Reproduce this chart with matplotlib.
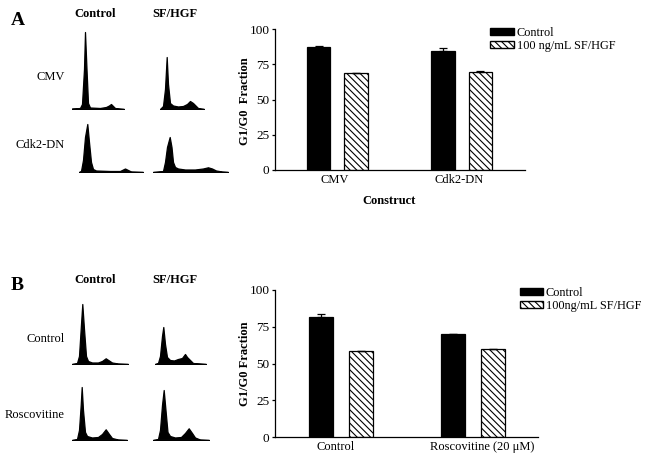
import numpy as np
import matplotlib
matplotlib.use('Agg')
import matplotlib.pyplot as plt
from matplotlib.patches import Patch

plt.rcParams['font.family'] = ['Liberation Serif', 'DejaVu Serif']
plt.rcParams['hatch.linewidth'] = 0.8

# ---------------- data ----------------
# Bar charts (G1/G0 fraction, %)
a_categories = ['CMV', 'Cdk2-DN']
a_control = [87.4, 84.6]
a_control_err = [0.4, 1.6]
a_hgf = [68.5, 69.4]
a_hgf_err = [0.4, 0.9]
a_legend = ['Control', '100 ng/mL SF/HGF']

b_categories = ['Control', 'Roscovitine (20 \u03bcM)']
b_control = [81.3, 70.0]
b_control_err = [2.6, 0.0]
b_hgf = [58.5, 59.6]
b_hgf_err = [0.0, 0.5]
b_legend = ['Control', '100ng/mL SF/HGF']

yticks = [0, 25, 50, 75, 100]

# Flow cytometry histograms: DNA content channel (a.u.) vs cell count (a.u.)
a_cmv_ctrl_ch = [0, 8, 10, 12, 13, 14.5, 16, 18, 28, 34, 37, 39, 41, 43, 52]
a_cmv_ctrl_n = [0.5, 1, 5, 40, 77, 40, 6, 1.5, 1, 2, 3.5, 5, 3, 1, 0]
a_cmv_hgf_ch = [0, 3, 5, 6.7, 8, 10, 13, 18, 23, 27, 30, 33, 36, 38, 44]
a_cmv_hgf_n = [0, 3, 20, 52, 25, 6, 3.5, 2.5, 3, 5, 8, 6, 3, 1, 0]
a_cdk_ctrl_ch = [0, 2, 4, 6, 8.3, 10, 12, 14, 17, 31, 41, 44, 46, 49, 52, 64]
a_cdk_ctrl_n = [0, 1, 12, 35, 48, 30, 10, 3, 1.5, 1, 1, 2.5, 3.5, 2, 0.5, 0]
a_cdk_hgf_ch = [0, 10, 12, 14, 16.7, 18.5, 20, 22, 25, 32, 42, 50, 55, 59, 63, 69, 75]
a_cdk_hgf_n = [0, 1, 10, 25, 35, 25, 10, 5, 3.5, 2.5, 2.5, 3.5, 4.7, 3.5, 1.5, 0.5, 0]

b_ctl_ctrl_ch = [0, 5, 7, 9, 10.3, 12, 14, 16, 20, 26, 30, 33.7, 37, 40, 46, 56]
b_ctl_ctrl_n = [0, 1, 8, 40, 60, 35, 8, 3, 1.5, 1.5, 3, 5.7, 3.5, 1.5, 0.5, 0]
b_ctl_hgf_ch = [0, 3, 5, 7, 8.3, 10, 12, 15, 19, 23, 27, 30, 32, 35, 38, 45, 51]
b_ctl_hgf_n = [0, 1, 8, 28, 37, 20, 7, 4, 3.5, 5, 6, 10, 7, 4, 1, 0.5, 0]
b_ros_ctrl_ch = [0, 5, 7, 8.7, 9.7, 11, 13, 15, 20, 26, 30, 33.7, 37, 40, 46, 55]
b_ros_ctrl_n = [0, 1, 10, 35, 53, 30, 8, 4, 2.5, 3, 6, 10.7, 6, 2, 0.5, 0]
b_ros_hgf_ch = [0, 5, 7, 9, 10.7, 12.5, 14.5, 17, 22, 28, 32, 35.7, 39, 42, 47, 56]
b_ros_hgf_n = [0, 1, 10, 35, 50, 30, 8, 4, 2.5, 3, 7, 11.7, 7, 2.5, 0.5, 0]

# ---------------- layout ----------------
W, H = 646, 459
fig = plt.figure(figsize=(W / 100, H / 100), dpi=100)


def px_axes(left, top, width, height):
    return fig.add_axes([left / W, 1 - (top + height) / H, width / W, height / H])


def ftext(x, y, s, **kw):
    fig.text(x / W, 1 - y / H, s, **kw)


def histogram(left, baseline, ch, n):
    width = ch[-1]
    ax = px_axes(left, baseline - 80, width, 80)
    ax.fill_between(ch, n, 0, color='black', lw=0.9)
    ax.axhline(0, color='#444444', lw=0.8)
    ax.set_xlim(0, width)
    ax.set_ylim(0, 80)
    ax.axis('off')


hatch = '\\\\\\\\\\'


def bar_panel(left, top, right, bottom, xlim, cats, ctrl, ctrl_err, hgf, hgf_err,
              bw, off, xtick_pos):
    ax = px_axes(left, top, right - left, bottom - top)
    x = np.arange(len(cats))
    ekw = dict(ecolor='black', elinewidth=0.9, capsize=3, capthick=0.9)
    ax.bar(x - off, ctrl, bw, color='black', edgecolor='black', lw=0.9,
           yerr=[np.zeros(len(cats)), ctrl_err], error_kw=ekw)
    ax.bar(x + off, hgf, bw, color='white', edgecolor='black', lw=0.9, hatch=hatch,
           yerr=[np.zeros(len(cats)), hgf_err], error_kw=ekw)
    ax.set_ylim(0, 100)
    ax.set_yticks(yticks)
    ax.set_xlim(*xlim)
    ax.set_xticks(xtick_pos)
    ax.set_xticklabels(cats)
    for s in ['top', 'right']:
        ax.spines[s].set_visible(False)
    for s in ['left', 'bottom']:
        ax.spines[s].set_linewidth(0.9)
    ax.tick_params(axis='x', length=0, pad=3, labelsize=9)
    ax.tick_params(axis='y', length=2.5, width=0.9, pad=1.5, labelsize=9.5)
    return ax


# Panel A bars
bar_panel(275, 29, 525, 170, (-0.502, 1.509), a_categories, a_control, a_control_err,
          a_hgf, a_hgf_err, 0.19, 0.151, [-0.02, 0.98])
ftext(245, 101, 'G1/G0  Fraction', rotation=90, ha='center', va='center',
      fontweight='bold', fontsize=9)
ftext(389, 201, 'Construct', ha='center', va='center', fontweight='bold', fontsize=9)
handles = [Patch(facecolor='black', edgecolor='black'),
           Patch(facecolor='white', edgecolor='black', hatch=hatch)]
fig.legend(handles, a_legend, loc='upper left', bbox_to_anchor=(490 / W, 1 - 27 / H),
           frameon=False, handlelength=2.0, handleheight=0.5, handletextpad=0.2,
           labelspacing=0.1, borderpad=0, borderaxespad=0, fontsize=8.8)

# Panel B bars
bar_panel(275, 290, 538, 437, (-0.499, 1.49), b_categories, b_control, b_control_err,
          b_hgf, b_hgf_err, 0.18, 0.151, [-0.04, 1.07])
ftext(245, 363.5, 'G1/G0 Fraction', rotation=90, ha='center', va='center',
      fontweight='bold', fontsize=9)
fig.legend(handles, b_legend, loc='upper left', bbox_to_anchor=(520 / W, 1 - 287 / H),
           frameon=False, handlelength=1.9, handleheight=0.5, handletextpad=0.2,
           labelspacing=0.1, borderpad=0, borderaxespad=0, fontsize=8.8)

# Histograms
histogram(72, 109, a_cmv_ctrl_ch, a_cmv_ctrl_n)
histogram(160, 109, a_cmv_hgf_ch, a_cmv_hgf_n)
histogram(79, 172, a_cdk_ctrl_ch, a_cdk_ctrl_n)
histogram(153, 172, a_cdk_hgf_ch, a_cdk_hgf_n)
histogram(72, 364, b_ctl_ctrl_ch, b_ctl_ctrl_n)
histogram(155, 364, b_ctl_hgf_ch, b_ctl_hgf_n)
histogram(72, 440, b_ros_ctrl_ch, b_ros_ctrl_n)
histogram(153, 440, b_ros_hgf_ch, b_ros_hgf_n)

# Panel letters and labels
ftext(18, 20.5, 'A', ha='center', va='center', fontweight='bold', fontsize=14)
ftext(95.5, 14, 'Control', ha='center', va='center', fontweight='bold', fontsize=9)
ftext(175, 14, 'SF/HGF', ha='center', va='center', fontweight='bold', fontsize=9)
ftext(65, 77, 'CMV', ha='right', va='center', fontsize=9)
ftext(65, 145, 'Cdk2-DN', ha='right', va='center', fontsize=9)

ftext(17, 285, 'B', ha='center', va='center', fontweight='bold', fontsize=14)
ftext(95, 280, 'Control', ha='center', va='center', fontweight='bold', fontsize=9)
ftext(174.5, 280, 'SF/HGF', ha='center', va='center', fontweight='bold', fontsize=9)
ftext(65, 339, 'Control', ha='right', va='center', fontsize=9)
ftext(65, 415, 'Roscovitine', ha='right', va='center', fontsize=9)

fig.savefig('out.png', dpi=100)
